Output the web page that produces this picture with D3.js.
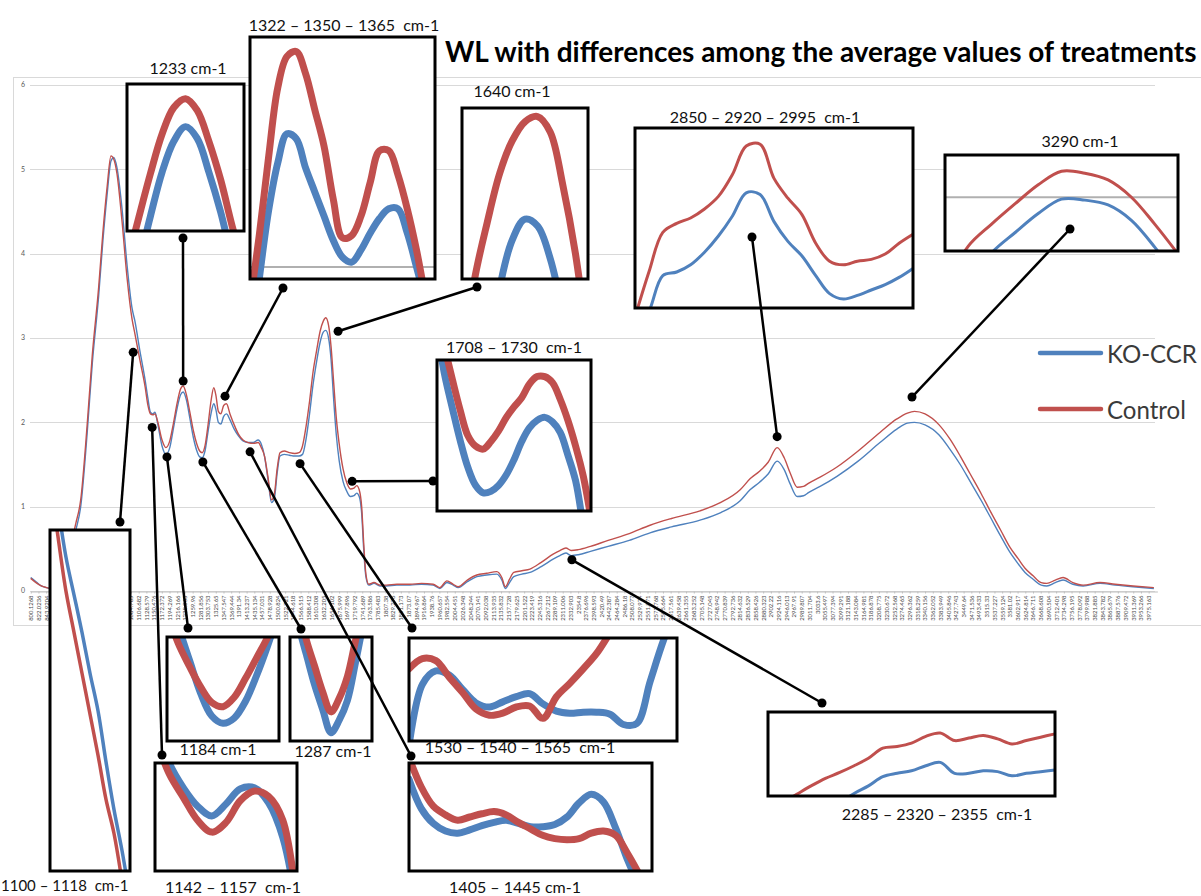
<!DOCTYPE html>
<html><head><meta charset="utf-8">
<script src="https://cdn.jsdelivr.net/npm/d3@7"></script>
<style>body{margin:0;background:#fff}svg{display:block}text{white-space:pre}</style>
</head><body><svg id="c" width="1201" height="896"></svg>
<script>
// ---------------- DATA ----------------
const chartTitle = "WL with differences among the average values of treatments";
const seriesNames = ["KO-CCR", "Control"];
const wavenumbers = [800,815,830,845,858,872,886,900,914,928,942,960,975,993,1005,1017,1028,1036,1045,1059,1074,1088,1096,1110,1125,1133,1140,1147,1153,1160,1173,1184,1195,1205,1216,1226,1233,1242,1252,1262,1272,1280,1287,1295,1304,1312,1320,1326,1333,1340,1348,1356,1366,1378,1390,1403,1418,1432,1446,1455,1464,1474,1484,1492,1500,1508,1520,1535,1550,1562,1572,1582,1592,1602,1612,1622,1631,1638,1646,1653,1660,1668,1676,1687,1698,1708,1718,1726,1733,1740,1746,1752,1760,1775,1792,1810,1840,1877,1910,1943,1962,1982,2000,2014,2040,2067,2095,2124,2138,2148,2160,2172,2195,2218,2250,2285,2303,2320,2335,2355,2390,2440,2500,2559,2620,2701,2760,2815,2843,2870,2895,2920,2940,2957,2977,2995,3010,3042,3090,3150,3212,3260,3290,3310,3340,3380,3411,3440,3468,3500,3525,3555,3581,3605,3624,3647,3670,3686,3710,3732,3760,3789,3837,3880,3931,3990];
const controlValues = [.15,.10,.06,.04,.03,.06,.15,.30,.55,.80,1.08,1.95,2.8,3.6,4.25,4.79,5.16,5.12,4.95,4.4,3.7,3.22,3.05,2.74,2.42,2.2,2.1,2.09,2.1,2.02,1.79,1.70,1.78,1.98,2.23,2.4,2.43,2.33,2.12,1.9,1.74,1.66,1.64,1.72,1.98,2.25,2.41,2.32,2.13,2.10,2.2,2.22,2.1,1.97,1.86,1.79,1.76,1.75,1.76,1.7,1.6,1.35,1.08,1.15,1.45,1.64,1.66,1.64,1.63,1.64,1.72,1.95,2.25,2.6,2.85,3.08,3.2,3.24,3.15,2.9,2.5,2.05,1.75,1.45,1.28,1.21,1.22,1.25,1.2,1.0,.55,.2,.08,.1,.07,.07,.08,.08,.09,.08,.04,.12,.08,.05,.13,.19,.21,.23,.16,.05,.14,.22,.24,.26,.34,.44,.48,.51,.48,.49,.53,.6,.68,.78,.86,.95,1.05,1.2,1.33,1.42,1.53,1.7,1.58,1.4,1.23,1.24,1.28,1.35,1.47,1.66,1.88,2.04,2.11,2.13,2.1,1.97,1.8,1.6,1.39,1.15,.95,.72,.52,.38,.27,.18,.1,.09,.13,.16,.1,.07,.1,.08,.06,.04];
const koValues = [.16,.11,.06,.04,.03,.05,.12,.25,.48,.72,1.0,1.85,2.7,3.5,4.15,4.7,5.1,5.14,5.02,4.55,3.85,3.35,3.2,2.85,2.5,2.28,2.12,2.1,2.12,2.0,1.72,1.62,1.7,1.92,2.17,2.33,2.36,2.27,2.05,1.82,1.66,1.59,1.58,1.66,1.9,2.1,2.22,2.15,2.0,1.98,2.07,2.1,2.03,1.92,1.84,1.78,1.76,1.76,1.79,1.74,1.6,1.32,1.05,1.1,1.4,1.6,1.62,1.61,1.6,1.6,1.62,1.8,2.1,2.45,2.72,2.95,3.07,3.09,3.0,2.75,2.3,1.85,1.55,1.3,1.18,1.12,1.13,1.16,1.12,.92,.48,.17,.07,.09,.06,.06,.07,.07,.08,.07,.03,.1,.07,.04,.11,.17,.19,.2,.13,.03,.1,.17,.2,.22,.29,.38,.42,.45,.42,.43,.47,.53,.6,.69,.76,.84,.93,1.07,1.2,1.29,1.39,1.54,1.44,1.27,1.12,1.13,1.17,1.24,1.36,1.54,1.76,1.92,1.99,2.0,1.97,1.85,1.68,1.5,1.3,1.07,.88,.65,.46,.32,.22,.14,.07,.06,.1,.13,.08,.06,.09,.07,.05,.03];
const yTickValues = [0,1,2,3,4,5,6];
const xTickLabels = ["800.1268","822.0236","843.9204","865.8172","887.714","909.6108","931.5076","953.4044","975.3012","997.198","1019.095","1040.992","1062.888","1084.785","1106.682","1128.579","1150.476","1172.372","1194.269","1216.166","1238.063","1259.96","1281.856","1303.753","1325.65","1347.547","1369.444","1391.34","1413.237","1435.134","1457.031","1478.928","1500.824","1522.721","1544.618","1566.515","1588.412","1610.308","1632.205","1654.102","1675.999","1697.896","1719.792","1741.689","1763.586","1785.483","1807.38","1829.276","1851.173","1873.07","1894.967","1916.864","1938.76","1960.657","1982.554","2004.451","2026.348","2048.244","2070.141","2092.038","2113.935","2135.832","2157.728","2179.625","2201.522","2223.419","2245.316","2267.212","2289.109","2311.006","2332.903","2354.8","2376.696","2398.593","2420.49","2442.387","2464.284","2486.18","2508.077","2529.974","2551.871","2573.768","2595.664","2617.561","2639.458","2661.355","2683.252","2705.148","2727.045","2748.942","2770.839","2792.736","2814.632","2836.529","2858.426","2880.323","2902.22","2924.116","2946.013","2967.91","2989.807","3011.704","3033.6","3055.497","3077.394","3099.291","3121.188","3143.084","3164.981","3186.878","3208.775","3230.672","3252.568","3274.465","3296.362","3318.259","3340.156","3362.052","3383.949","3405.846","3427.743","3449.64","3471.536","3493.433","3515.33","3537.227","3559.124","3581.02","3602.917","3624.814","3646.711","3668.608","3690.504","3712.401","3734.298","3756.195","3778.092","3799.988","3821.885","3843.782","3865.679","3887.576","3909.472","3931.369","3953.266","3975.163"];

// zoomed inset curves (relative units 0..100 inside each inset window, evenly sampled)
const inset1233Control = [-22,9,39,66,84,90,82,61,35,3,-25];
const inset1233KO      = [-50,-22,10,40,61,71,63,40,13,-20,-50];
const inset1322Control = [-10,18,50,79,92,94,85,70,55,33,17,18,26,40,53,53,43,29,12,-8,-25];
const inset1322KO      = [-30,0,28,48,60,58,46,36,26,16,9,7,12,19,25,29,29,19,5,-10,-30];
const inset1640Control = [-50,0,33,62,81,92,95,86,55,15,-40];
const inset1640KO      = [-140,-100,-60,-5,23,35,31,12,-20,-60,-100];
const inset1708Control = [130,108,87,67,50,43,41,46,53,62,69,75,84,89,89,85,74,60,43,23,-5];
const inset1708KO      = [120,90,68,47,29,17,12,13,17,24,34,46,55,60,62,59,52,37,20,-10,-40];
const inset2850Control = [-5,20,42,47,50,55,62,74,90,91,72,61,52,36,26,24,26,27,30,36,41];
const inset2850KO      = [-15,-2,18,20,24,31,40,51,64,63,48,37,29,18,8,5,7,10,13,17,22];
const inset3290Control = [-40,5,28,49,69,83,81,74,56,28,-3];
const inset3290KO      = [-60,-35,-2,19,39,54,53,48,32,4,-30];
const inset1100Control = [115,98,82,70,58,46,34,21,11,-3,-20];
const inset1100KO      = [125,107,92,81,70,58,47,32,18,6,-8];
const inset1142Control = [125,90,68,47,36,45,65,74,69,47,-30];
const inset1142KO      = [140,100,77,60,51,62,76,77,63,31,-35];
const inset1184Control = [125,94,72,52,37,33,42,60,80,100,125];
const inset1184KO      = [140,110,78,46,24,17,22,38,63,92,125];
const inset1287Control = [160,130,97,72,47,28,41,62,97,130,160];
const inset1287KO      = [145,112,83,54,30,8,20,39,76,115,150];
const inset1530Control = [70,80,78,62,47,31,25,27,33,34,22,43,56,70,85,105,125,145,160,170,180];
const inset1530KO      = [-5,55,68,64,50,37,33,38,43,46,36,29,27,28,28,26,16,17,58,98,130];
const inset1405Control = [105,78,60,52,47,50,53,55,52,45,39,33,30,29,30,35,37,33,16,-4,-25];
const inset1405KO      = [85,58,44,37,35,38,42,45,47,44,41,41,43,50,63,71,64,40,10,-15,-40];
const inset2285Control = [-20,-8,2,12,21,28,36,45,57,59,63,71,75,66,69,72,68,62,66,70,74];
const inset2285KO      = [-60,-50,-40,-30,-20,-8,3,12,23,27,30,36,40,27,27,30,29,24,27,29,31];

// ---------------- LAYOUT ----------------
const RED = "#c0504d", BLUE = "#4f81bd", GRID = "#d9d9d9";
const svg = d3.select("#c");
const plotL = 30, plotR = 1155;
const x = d3.scaleLinear().domain([800, 4000]).range([30.7, 1157.4]);
const y = d3.scaleLinear().domain([0, 6]).range([591, 85]);

const defs = svg.append("defs");
defs.append("filter").attr("id","soft").append("feGaussianBlur").attr("stdDeviation",0.6);

// chart area border
svg.append("rect").attr("x",13.5).attr("y",77.5).attr("width",1200).attr("height",548)
  .attr("fill","none").attr("stroke",GRID);

// gridlines
svg.append("g").selectAll("line").data(yTickValues).join("line")
  .attr("x1",plotL).attr("x2",plotR)
  .attr("y1",d=>Math.round(y(d))+0.5).attr("y2",d=>Math.round(y(d))+0.5)
  .attr("stroke",GRID).attr("stroke-width",1);

// y axis labels
svg.append("g").selectAll("text").data(yTickValues).join("text")
  .attr("x",25).attr("y",d=>y(d)).attr("dy","0.35em").attr("text-anchor","end")
  .attr("font-family","Lato, sans-serif").attr("font-size",7).attr("fill","#595959")
  .text(d=>d);

// x axis
const gx = svg.append("g").attr("transform",`translate(0,${Math.round(y(0))+0.5})`)
  .call(d3.axisBottom(x).tickValues(xTickLabels.map(Number)).tickFormat((d,i)=>xTickLabels[i]).tickSize(2).tickSizeOuter(0));
gx.select(".domain").attr("stroke","#bfbfbf");
gx.selectAll(".tick line").attr("stroke","#bfbfbf");
gx.selectAll("text").attr("transform","rotate(-90)").attr("text-anchor","end")
  .attr("x",-4).attr("y",0).attr("dy","0.32em")
  .attr("font-family","Lato, sans-serif").attr("font-size",5.9).attr("fill","#4a4a4a");

// main curves
const mainLine = d3.line().x((d,i)=>x(wavenumbers[i])).y(d=>y(d)).curve(d3.curveMonotoneX);
svg.append("path").datum(koValues).attr("d",mainLine).attr("fill","none").attr("stroke",BLUE).attr("stroke-width",1.4);
svg.append("path").datum(controlValues).attr("d",mainLine).attr("fill","none").attr("stroke",RED).attr("stroke-width",1.4);

// title
const title = svg.append("text").attr("x",445).attr("y",62)
  .attr("font-family","Lato, sans-serif").attr("font-weight","bold").attr("font-size",24).attr("fill","#000")
  .text(chartTitle);
{ const w = title.node().getComputedTextLength(); title.attr("font-size", 24*752/w); }

// legend
const legend = [{name:seriesNames[0], color:BLUE, y:353},{name:seriesNames[1], color:RED, y:409}];
const lg = svg.append("g");
lg.selectAll("line").data(legend).join("line")
  .attr("x1",1040).attr("x2",1101).attr("y1",d=>d.y).attr("y2",d=>d.y)
  .attr("stroke",d=>d.color).attr("stroke-width",4.5).attr("stroke-linecap","round");
const lt = lg.selectAll("text").data(legend).join("text")
  .attr("x",1107).attr("y",d=>d.y+10).attr("font-family","Lato, sans-serif").attr("font-size",26).attr("fill","#3a3a3a")
  .text(d=>d.name);
{ const w = lt.nodes()[0].getComputedTextLength(); lt.attr("font-size", 26*90/w); }

// insets
const insets = [
 {label:"1233 cm-1", lx:188, ly:74, box:[127,84,244,231], c:inset1233Control, k:inset1233KO, sw:7, from:[183,238], to:[1233,2.49]},
 {label:"1322 – 1350 – 1365  cm-1", lx:344, ly:31, box:[250,37,435,279], c:inset1322Control, k:inset1322KO, sw:7, grid:5, from:[283,288], to:[1352,2.31]},
 {label:"1640 cm-1", lx:512, ly:97, box:[462,108,588,279], c:inset1640Control, k:inset1640KO, sw:7, from:[477,287], to:[1673,3.08]},
 {label:"2850 – 2920 – 2995  cm-1", lx:765, ly:123, box:[635,128,913,308], c:inset2850Control, k:inset2850KO, sw:3, from:[752,237], to:[2920,1.83]},
 {label:"3290 cm-1", lx:1080, ly:147, box:[945,155,1178,251], c:inset3290Control, k:inset3290KO, sw:3, grid:56, from:[1070,229], to:[3303,2.30]},
 {label:"1708 – 1730  cm-1", lx:514, ly:353, box:[437,360,591,511], c:inset1708Control, k:inset1708KO, sw:7, from:[433,481], to:[1713,1.30]},
 {label:"1100 – 1118  cm-1", lx:1, ly:891, anchor:"start", fs:15, box:[50,530,130,871], c:inset1100Control, k:inset1100KO, sw:3.5, from:[120,522], to:[1091,2.83]},
 {label:"1142 – 1157  cm-1", lx:233, ly:893, box:[155,763,297,871], c:inset1142Control, k:inset1142KO, sw:7, from:[162,755], to:[1145,1.94]},
 {label:"1184 cm-1", lx:218, ly:755, box:[167,637,279,741], c:inset1184Control, k:inset1184KO, sw:7, from:[188,628], to:[1187,1.59]},
 {label:"1287 cm-1", lx:333, ly:757, box:[290,637,372,741], c:inset1287Control, k:inset1287KO, sw:7, from:[301,629], to:[1289,1.53]},
 {label:"1530 – 1540 – 1565  cm-1", lx:520, ly:753, box:[409,638,677,741], c:inset1530Control, k:inset1530KO, sw:7, from:[412,628], to:[1565,1.51]},
 {label:"1405 – 1445 cm-1", lx:515, ly:893, box:[409,763,652,871], c:inset1405Control, k:inset1405KO, sw:7, from:[411,756], to:[1423,1.65]},
 {label:"2285 – 2320 – 2355  cm-1", lx:937, ly:820, box:[768,712,1055,796], c:inset2285Control, k:inset2285KO, sw:3, from:[822,703], to:[2337,0.37]}
];

insets.forEach((ins, idx) => {
  const [x0,y0,x1,y1] = ins.box;
  const g = svg.append("g");
  const cid = "clip"+idx;
  defs.append("clipPath").attr("id",cid).append("rect").attr("x",x0).attr("y",y0).attr("width",x1-x0).attr("height",y1-y0);
  g.append("rect").attr("x",x0).attr("y",y0).attr("width",x1-x0).attr("height",y1-y0).attr("fill","#fff");
  const ix = d3.scaleLinear().domain([0, ins.c.length-1]).range([x0, x1]);
  const iy = d3.scaleLinear().domain([0, 100]).range([y1, y0]);
  const inner = g.append("g").attr("clip-path",`url(#${cid})`);
  if (ins.grid !== undefined) {
    inner.append("line").attr("x1",x0).attr("x2",x1).attr("y1",iy(ins.grid)).attr("y2",iy(ins.grid))
      .attr("stroke","#b0b0b0").attr("stroke-width",2);
  }
  const ln = d3.line().x((d,i)=>ix(i)).y(d=>iy(d)).curve(d3.curveCatmullRom.alpha(0.5));
  const cg = inner.append("g").attr("filter","url(#soft)");
  cg.append("path").datum(ins.k).attr("d",ln).attr("fill","none").attr("stroke",BLUE)
    .attr("stroke-width",ins.sw).attr("stroke-linejoin","round").attr("stroke-linecap","round");
  cg.append("path").datum(ins.c).attr("d",ln).attr("fill","none").attr("stroke",RED)
    .attr("stroke-width",ins.sw).attr("stroke-linejoin","round").attr("stroke-linecap","round");
  g.append("rect").attr("x",x0).attr("y",y0).attr("width",x1-x0).attr("height",y1-y0)
    .attr("fill","none").attr("stroke","#000").attr("stroke-width",3);
  g.append("text").attr("x",ins.lx).attr("y",ins.ly).attr("text-anchor",ins.anchor || "middle")
    .attr("font-family","Lato, sans-serif").attr("font-size",ins.fs || 16).attr("fill","#111").text(ins.label);
});

// connectors
const cg = svg.append("g");
insets.forEach(ins => {
  const p1 = ins.from, p2 = [x(ins.to[0]), y(ins.to[1])];
  cg.append("line").attr("x1",p1[0]).attr("y1",p1[1]).attr("x2",p2[0]).attr("y2",p2[1])
    .attr("stroke","#000").attr("stroke-width",2.5);
  [p1,p2].forEach(p => cg.append("circle").attr("cx",p[0]).attr("cy",p[1]).attr("r",4.5).attr("fill","#000"));
});
</script>
</body></html>
